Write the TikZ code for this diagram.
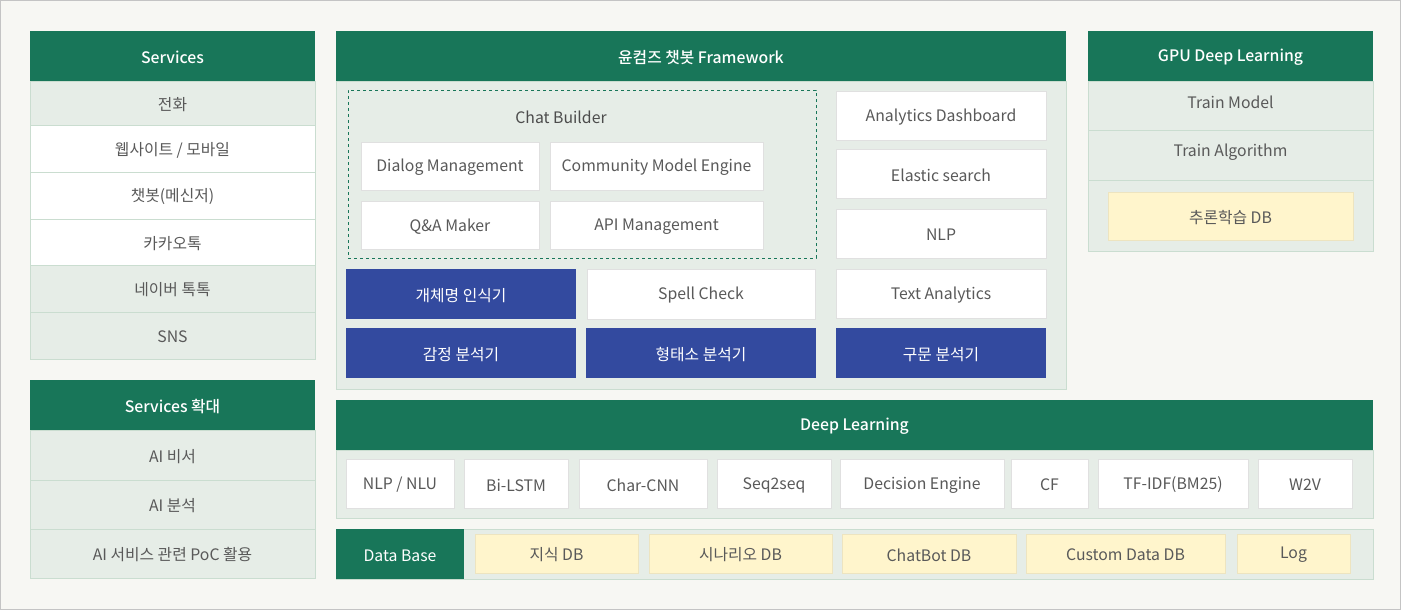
\documentclass[tikz,border=0pt]{standalone}
\usepackage{fontspec}
\setmainfont{Noto Sans CJK KR}
\newfontfamily\medfont{Noto Sans CJK KR}[UprightFont={* Medium}]
\begin{document}
\definecolor{hgreen}{HTML}{187659}
\definecolor{pbg}{HTML}{E6EDE7}
\definecolor{sepc}{HTML}{CADDD0}
\definecolor{bblue}{HTML}{334A9F}
\definecolor{ybg}{HTML}{FFF5CC}
\definecolor{ybd}{HTML}{EDE4C0}
\definecolor{wbd}{HTML}{E0E0E0}
\definecolor{tgray}{HTML}{595959}
\definecolor{outbg}{HTML}{F7F7F3}
\definecolor{outbd}{HTML}{C4C4C4}
\newcommand{\lw}[1]{\raisebox{-1.5pt}[\height][\depth]{#1}}
\newcommand{\bx}[7]{\node[#2, minimum width={(#5-#3)*1pt}, minimum height={(#6-#4)*1pt}] (#1) at ({(#3+#5)/2},{(#4+#6)/2}) {\lw{#7}};}
\begin{tikzpicture}[x=1pt,y=-1pt,
  every node/.style={inner sep=0pt, outer sep=0pt, font=\fontsize{15.8}{18}\selectfont},
  head/.style={fill=hgreen, text=white, font=\fontsize{15.8}{18}\selectfont\medfont},
  prow/.style={fill=pbg, draw=sepc, line width=0.8pt, text=tgray},
  wrow/.style={fill=white, draw=sepc, line width=0.8pt, text=tgray},
  panel/.style={fill=pbg, draw=sepc, line width=0.8pt},
  wbox/.style={fill=white, draw=wbd, line width=0.8pt, text=tgray},
  bbox/.style={fill=bblue, text=white},
  ybox/.style={fill=ybg, draw=ybd, line width=0.8pt, text=tgray},
  dashbox/.style={draw=hgreen, dashed, line width=0.8pt}]
\useasboundingbox (0,0) rectangle (1401,610);
\draw[fill=outbg, draw=outbd, line width=1pt] (0.5,0.5) rectangle (1400.5,609.5);

% Services
\bx{svc}{head}{30}{31}{315}{81}{Services}
\bx{s1}{prow}{30}{81}{315}{125}{전화}
\bx{s2}{wrow}{30}{125}{315}{172}{웹사이트 / 모바일}
\bx{s3}{wrow}{30}{172}{315}{219}{챗봇(메신저)}
\bx{s4}{wrow}{30}{219}{315}{265}{카카오톡}
\bx{s5}{prow}{30}{265}{315}{312}{네이버 톡톡}
\bx{s6}{prow}{30}{312}{315}{359}{SNS}

% Services expansion
\bx{sx}{head}{30}{380}{315}{430}{Services 확대}
\bx{x1}{prow}{30}{430}{315}{480}{AI 비서}
\bx{x2}{prow}{30}{480}{315}{529}{AI 분석}
\bx{x3}{prow}{30}{529}{315}{578}{AI 서비스 관련 PoC 활용}

% Framework
\bx{fwp}{panel}{336}{81}{1066}{389}{}
\bx{fw}{head}{336}{31}{1066}{81}{윤컴즈 챗봇 Framework}
\bx{cb}{dashbox}{348}{90}{816}{258}{}
\node[text=tgray!85!black] (cbt) at (561,116) {\lw{Chat Builder}};
\bx{dm}{wbox}{361}{142}{539}{190}{Dialog Management}
\bx{cme}{wbox}{550}{142}{763}{190}{Community Model Engine}
\bx{qa}{wbox}{361}{201}{539}{249}{Q\&A Maker}
\bx{api}{wbox}{550}{201}{763}{249}{API Management}
\bx{ner}{bbox}{346}{269}{576}{319}{개체명 인식기}
\bx{spell}{wbox}{587}{269}{815}{319}{Spell Check}
\bx{emo}{bbox}{346}{328}{576}{378}{감정 분석기}
\bx{morph}{bbox}{586}{328}{816}{378}{형태소 분석기}
\bx{ad}{wbox}{836}{91}{1046}{140}{Analytics Dashboard}
\bx{es}{wbox}{836}{149}{1046}{198}{Elastic search}
\bx{nlp}{wbox}{836}{209}{1046}{258}{NLP}
\bx{ta}{wbox}{836}{269}{1046}{318}{Text Analytics}
\bx{syn}{bbox}{836}{328}{1046}{378}{구문 분석기}

% GPU Deep Learning
\bx{gpup}{panel}{1088}{81}{1373}{251}{}
\bx{gpu}{head}{1088}{31}{1373}{81}{GPU Deep Learning}
\bx{g1}{prow}{1088}{81}{1373}{130}{}
\node[text=tgray] (g1t) at (1230.5,101) {\lw{Train Model}};
\bx{g2}{prow}{1088}{130}{1373}{180}{}
\node[text=tgray] (g2t) at (1230.5,151) {\lw{Train Algorithm}};
\bx{g3}{ybox}{1108}{192}{1353}{240}{추론학습 DB}

% Deep Learning
\bx{dlp}{panel}{336}{450}{1373}{518}{}
\bx{dl}{head}{336}{400}{1373}{450}{Deep Learning}
\bx{d1}{wbox}{346}{459}{454}{508}{NLP / NLU}
\bx{d2}{wbox}{464}{459}{568}{508}{Bi-LSTM}
\bx{d3}{wbox}{579}{459}{707}{508}{Char-CNN}
\bx{d4}{wbox}{717}{459}{831}{508}{Seq2seq}
\bx{d5}{wbox}{840}{459}{1004}{508}{Decision Engine}
\bx{d6}{wbox}{1011}{459}{1088}{508}{CF}
\bx{d7}{wbox}{1098}{459}{1248}{508}{TF-IDF(BM25)}
\bx{d8}{wbox}{1258}{459}{1352}{508}{W2V}

% Data Base
\bx{dbp}{panel}{336}{529}{1373}{579}{}
\bx{db}{head}{336}{529}{464}{579}{\normalfont\fontsize{15.8}{18}\selectfont Data Base}
\bx{b1}{ybox}{475}{534}{638}{573}{지식 DB}
\bx{b2}{ybox}{649}{534}{832}{573}{시나리오 DB}
\bx{b3}{ybox}{842}{534}{1016}{573}{ChatBot DB}
\bx{b4}{ybox}{1026}{534}{1225}{573}{Custom Data DB}
\bx{b5}{ybox}{1237}{534}{1350}{573}{Log}
\end{tikzpicture}
\end{document}
